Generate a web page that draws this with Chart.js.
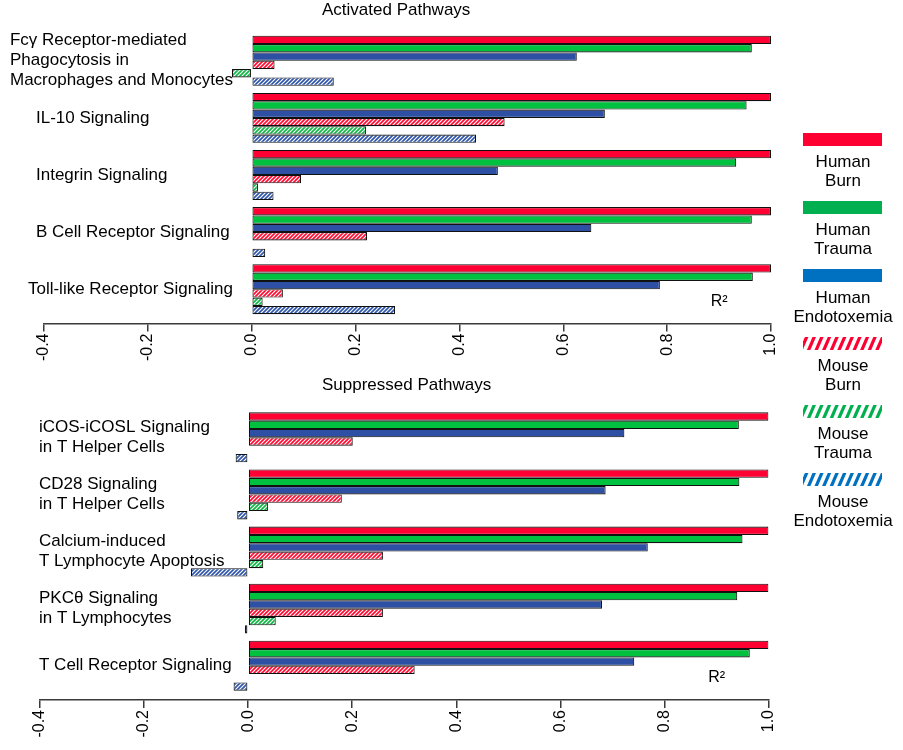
<!DOCTYPE html>
<html>
<head>
<meta charset="utf-8">
<script src="https://cdn.jsdelivr.net/npm/chart.js@4.4.1/dist/chart.umd.min.js"></script>
<style>
  html, body { margin: 0; padding: 0; background: #fff; }
  #wrapA { position: absolute; left: 0; top: 0; width: 903px; height: 750px; }
  #wrapB { position: absolute; left: 0; top: 375px; width: 903px; height: 375px; }
</style>
</head>
<body>
<div id="wrapA"><canvas id="chartA"></canvas></div>
<div id="wrapB"><canvas id="chartB"></canvas></div>
<script>
// ---------- data ----------
const seriesNames = ["Human Burn", "Human Trauma", "Human Endotoxemia", "Mouse Burn", "Mouse Trauma", "Mouse Endotoxemia"];
const xTicks = [-0.4, -0.2, 0.0, 0.2, 0.4, 0.6, 0.8, 1.0];

const titleA = "Activated Pathways";
const categoriesA = [
  ["Fcγ Receptor-mediated", "Phagocytosis in", "Macrophages and Monocytes"],
  ["IL-10 Signaling"],
  ["Integrin Signaling"],
  ["B Cell Receptor Signaling"],
  ["Toll-like Receptor Signaling"]
];
const humanBurnA   = [1.000, 1.000, 1.000, 1.000, 1.000];
const humanTraumaA = [0.963, 0.953, 0.933, 0.963, 0.965];
const humanEndoA   = [0.626, 0.680, 0.474, 0.654, 0.786];
const mouseBurnA   = [0.044, 0.487, 0.095, 0.222, 0.060];
const mouseTraumaA = [-0.038, 0.220, 0.012, 0.000, 0.021];
const mouseEndoA   = [0.158, 0.432, 0.042, 0.026, 0.276];

const titleB = "Suppressed Pathways";
const categoriesB = [
  ["iCOS-iCOSL Signaling", "in T Helper Cells"],
  ["CD28 Signaling", "in T Helper Cells"],
  ["Calcium-induced", "T Lymphocyte Apoptosis"],
  ["PKCθ Signaling", "in T Lymphocytes"],
  ["T Cell Receptor Signaling"]
];
const humanBurnB   = [1.000, 1.000, 1.000, 1.000, 1.000];
const humanTraumaB = [0.943, 0.944, 0.950, 0.940, 0.964];
const humanEndoB   = [0.723, 0.687, 0.768, 0.680, 0.742];
const mouseBurnB   = [0.201, 0.180, 0.259, 0.259, 0.320];
const mouseTraumaB = [0.000, 0.038, 0.029, 0.053, 0.000];
const mouseEndoB   = [-0.024, -0.021, -0.110, -0.006, -0.028];

const axisLabel = "R²";

// ---------- styles ----------
const FONT = "'Liberation Sans', Arial, sans-serif";
const barSolid = ["#FF0033", "#00C040", "#2D50A5"];
const hatchColors = ["#FF0A30", "#0DB843", "#2F56AC"];
const legendColors = ["#FF0033", "#00B050", "#0070C0", "#FF0033", "#00B050", "#0070C0"];

function hatch(color) {
  const c = document.createElement('canvas');
  c.width = 4; c.height = 4;
  const g = c.getContext('2d');
  g.fillStyle = '#ffffff';
  g.fillRect(0, 0, 4, 4);
  g.strokeStyle = color;
  g.lineWidth = 1.7;
  g.beginPath();
  g.moveTo(0, 4); g.lineTo(4, 0);
  g.moveTo(-1, 1); g.lineTo(1, -1);
  g.moveTo(3, 5); g.lineTo(5, 3);
  g.stroke();
  return g.createPattern(c, 'repeat');
}
const fills = [barSolid[0], barSolid[1], barSolid[2], hatch(hatchColors[0]), hatch(hatchColors[1]), hatch(hatchColors[2])];

function makeDatasets(seriesList) {
  return seriesList.map((vals, k) => ({
    label: seriesNames[k],
    data: vals.map((v, i) => ({ x: v, y: i })),
    backgroundColor: fills[k],
    borderColor: '#111111',
    borderWidth: 1.1,
    borderSkipped: false,
    categoryPercentage: 0.875,
    barPercentage: 1.0
  }));
}

// plugin: panel title, category labels, R² label, legend
const decorPlugin = {
  id: 'decor',
  afterDraw(chart, args, opts) {
    const ctx = chart.ctx;
    const ys = chart.scales.y;
    ctx.save();
    ctx.fillStyle = '#000';
    ctx.textBaseline = 'middle';
    // title
    ctx.font = "17px " + FONT;
    ctx.textAlign = 'left';
    ctx.fillText(opts.title, 322, 10);
    // category labels
    ctx.font = "17px " + FONT;
    opts.categories.forEach((lines, i) => {
      const cy = ys.getPixelForValue(i);
      let maxW = 0;
      lines.forEach(l => { maxW = Math.max(maxW, ctx.measureText(l).width); });
      const x0 = Math.max(6, Math.min(opts.labelX, 233 - maxW));
      const lh = 20;
      lines.forEach((l, j) => {
        ctx.fillText(l, x0, cy + (j - (lines.length - 1) / 2) * lh);
      });
    });
    // R² label
    const ca = chart.chartArea;
    ctx.font = "16px " + FONT;
    ctx.fillText(axisLabel, chart.scales.x.getPixelForValue(0.884), ca.bottom - 22);
    // legend
    if (opts.legend) {
      const lx = 803, lw = 79, lh = 13;
      chart.data.datasets.forEach((ds, k) => {
        const top = 133 + k * 68;
        if (k < 3) {
          ctx.fillStyle = legendColors[k];
          ctx.fillRect(lx, top, lw, lh);
        } else {
          ctx.save();
          ctx.beginPath();
          ctx.rect(lx, top, lw, lh);
          ctx.clip();
          ctx.strokeStyle = legendColors[k];
          ctx.lineWidth = 3.2;
          for (let sx = lx - 10; sx < lx + lw + 10; sx += 7.6) {
            ctx.beginPath();
            ctx.moveTo(sx, top + lh + 1);
            ctx.lineTo(sx + 6.5, top - 1);
            ctx.stroke();
          }
          ctx.restore();
        }
        ctx.fillStyle = '#000';
        ctx.font = "17px " + FONT;
        ctx.textAlign = 'center';
        const parts = ds.label.split(' ');
        ctx.fillText(parts[0], 843, top + 29);
        ctx.fillText(parts.slice(1).join(' '), 843, top + 48);
        ctx.textAlign = 'left';
      });
    }
    ctx.restore();
  }
};

function makeOptions(cfg) {
  return {
    indexAxis: 'y',
    responsive: true,
    maintainAspectRatio: false,
    animation: false,
    layout: { padding: cfg.padding },
    plugins: {
      legend: { display: false },
      tooltip: { enabled: false },
      title: { display: false },
      decor: cfg.decor
    },
    scales: {
      x: {
        type: 'linear',
        min: xTicks[0],
        max: xTicks[xTicks.length - 1],
        afterBuildTicks: s => { s.ticks = xTicks.map(v => ({ value: v })); },
        afterFit: s => { s.height = 45; },
        border: { display: true, color: '#3a3a3a', width: 1.5 },
        grid: { drawOnChartArea: false, drawTicks: true, tickLength: 8, color: '#3a3a3a', lineWidth: 1.5 },
        ticks: {
          autoSkip: false,
          minRotation: 90,
          maxRotation: 90,
          padding: 2,
          color: '#000',
          font: { family: FONT, size: 16 },
          callback: v => Number(v).toFixed(1)
        }
      },
      y: {
        type: 'linear',
        display: false,
        reverse: true,
        offset: false,
        min: -0.5,
        max: 4.6,
        afterBuildTicks: s => { s.ticks = cfg.categories.map((c, i) => ({ value: i })); }
      }
    }
  };
}

new Chart(document.getElementById('chartA'), {
  type: 'bar',
  data: { datasets: makeDatasets([humanBurnA, humanTraumaA, humanEndoA, mouseBurnA, mouseTraumaA, mouseEndoA]) },
  options: makeOptions({
    categories: categoriesA,
    padding: { left: 44, right: 132, top: 32.2, bottom: 750 - 323.5 - 45 },
    decor: { title: titleA, categories: categoriesA, labelX: 36, legend: true }
  }),
  plugins: [decorPlugin]
});

new Chart(document.getElementById('chartB'), {
  type: 'bar',
  data: { datasets: makeDatasets([humanBurnB, humanTraumaB, humanEndoB, mouseBurnB, mouseTraumaB, mouseEndoB]) },
  options: makeOptions({
    categories: categoriesB,
    padding: { left: 40, right: 134.5, top: 33.8, bottom: 375 - 325 - 45 },
    decor: { title: titleB, categories: categoriesB, labelX: 39, legend: false }
  }),
  plugins: [decorPlugin]
});
</script>
</body>
</html>
